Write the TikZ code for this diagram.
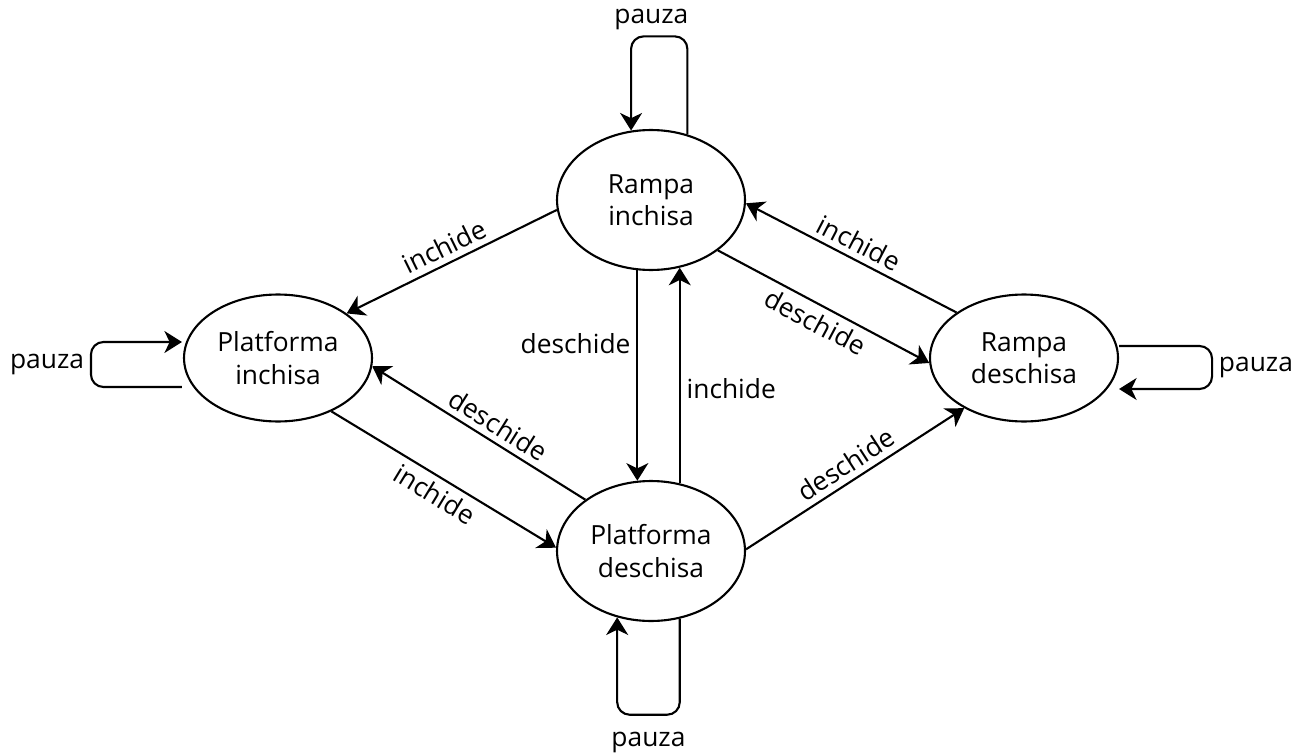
\documentclass[tikz,border=0pt]{standalone}
\usepackage{fontspec}
\setmainfont{Open Sans}
\usetikzlibrary{shapes, arrows.meta, positioning}

\begin{document}
\begin{tikzpicture}[x=0.02cm, y=-0.02cm,
      font=\fontsize{15}{18.5}\selectfont,
      state/.style={ellipse, draw=black, line width=1.2pt, minimum width=3.76cm, minimum height=2.8cm, inner sep=0pt, align=center},
      sidestate/.style={state, minimum height=2.54cm},
      trans/.style={-{Stealth[length=10pt, width=12.5pt, inset=3pt]}, line width=1.2pt},
      loop/.style={trans, rounded corners=0.25cm}
    ]
      \useasboundingbox (0,0) rectangle (1300,753);

      \node[state] (RI) at (651,200) {Rampa\\inchisa};
      \node[sidestate] (PI) at (278,358) {Platforma\\inchisa};
      \node[sidestate] (RD) at (1024,358) {Rampa\\deschisa};
      \node[state] (PD) at (651,551) {Platforma\\deschisa};

      \draw[trans] (RI.186) -- node[sloped, above] {inchide} (PI.33);
      \draw[trans] (PD.142) -- node[sloped, above, pos=0.45] {deschide} (PI.355);
      \draw[trans] (PI.315) -- node[sloped, below] {inchide} (PD.178);
      \draw[trans] (RI.259) -- node[left, pos=0.35] {deschide} (PD.101);
      \draw[trans] (PD.67) -- node[right, pos=0.44] {inchide} (RI.293);
      \draw[trans] (RD.146) -- node[sloped, above] {inchide} (RI.358);
      \draw[trans] (RI.323) -- node[sloped, below] {deschide} (RD.183);
      \draw[trans] (PD.1) -- node[sloped, above] {deschide} (RD.220);

      % bucle pauza
      \draw[loop] (RI.61) -- ++(0,-98) -| node[pos=0.32, above] {pauza} (RI.106);
      \draw[loop] (PD.293) -- ++(0,96) -| node[pos=0.25, below=0.22cm] {pauza} (PD.243);
      \draw[loop] ([shift={(-1,29)}]PI.west) -- ++(-91,0) |- node[pos=0.25, left] {pauza} ([shift={(-1,-16)}]PI.west);
      \draw[loop] ([shift={(0,-12)}]RD.east) -- ++(93,0) |- node[pos=0.25, right] {pauza} ([shift={(0,31)}]RD.east);
    \end{tikzpicture}
\end{document}
